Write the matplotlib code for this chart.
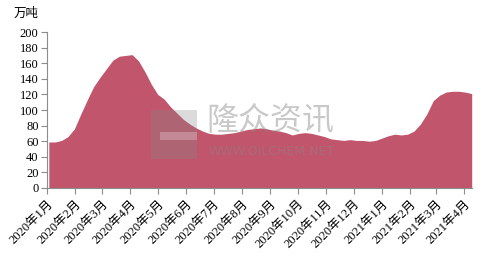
import matplotlib
matplotlib.use("Agg")
import matplotlib.pyplot as plt
import pandas as pd
from matplotlib.patches import Rectangle

plt.rcParams['font.family'] = ['Liberation Serif', 'Noto Sans CJK SC', 'DejaVu Sans']

# weekly stock, 10k tonnes
dates = pd.date_range('2020-01-03', periods=67, freq='7D')
stock = [59, 59, 61, 66, 76, 95, 113, 130, 142, 153,
         164, 169, 170, 171, 163, 149, 133, 120, 114, 104,
         96, 88, 82, 77, 73, 70, 69, 69, 70, 71,
         73, 75, 76, 77, 76, 74, 73, 71, 68, 70,
         71, 70, 68, 66, 63, 62, 61, 62, 61, 61,
         60, 61, 64, 67, 69, 68, 69, 73, 82, 95,
         112, 119, 123, 124, 124, 123, 121]

months = pd.date_range('2020-01-01', '2021-04-01', freq='MS')
month_labels = [f'{d.year}年{d.month}月' for d in months]

fig = plt.figure(figsize=(4.91, 2.65), dpi=100)
ax = fig.add_axes([0.0957, 0.2906, 0.865, 0.5885])

ax.fill_between(dates, stock, 0, color='#C1556C', lw=0)
ax.set_ylim(0, 200)
ax.set_yticks(range(0, 201, 20))
ax.set_xlim(pd.Timestamp('2020-01-01'), dates[-1])
ax.set_xticks(months)
ax.set_xticklabels(month_labels, rotation=45, ha='right', rotation_mode='anchor')

for s in ['top', 'right']:
    ax.spines[s].set_visible(False)
for s in ['left', 'bottom']:
    ax.spines[s].set_color('#8c8c8c')
ax.tick_params(axis='both', colors='#8c8c8c', labelcolor='black', length=4, width=0.8)
ax.tick_params(axis='y', labelsize=9, pad=2)
ax.tick_params(axis='x', labelsize=9, pad=3)

fig.text(0.028, 0.935, '万吨', fontsize=9, style='italic')

# watermark
fig.patches.append(Rectangle((0.307, 0.40), 0.095, 0.185, transform=fig.transFigure,
                             color='#888888', alpha=0.3, lw=0))
fig.patches.append(Rectangle((0.325, 0.47), 0.077, 0.03, transform=fig.transFigure,
                             color='white', alpha=0.25, lw=0))
fig.text(0.420, 0.54, '隆众资讯', fontsize=23, color='#888888', alpha=0.45, va='center')
fig.text(0.424, 0.43, 'WWW.OILCHEM.NET', fontsize=9, color='#888888', alpha=0.45,
         va='center', family='DejaVu Sans')

fig.savefig('out.png', dpi=100)
